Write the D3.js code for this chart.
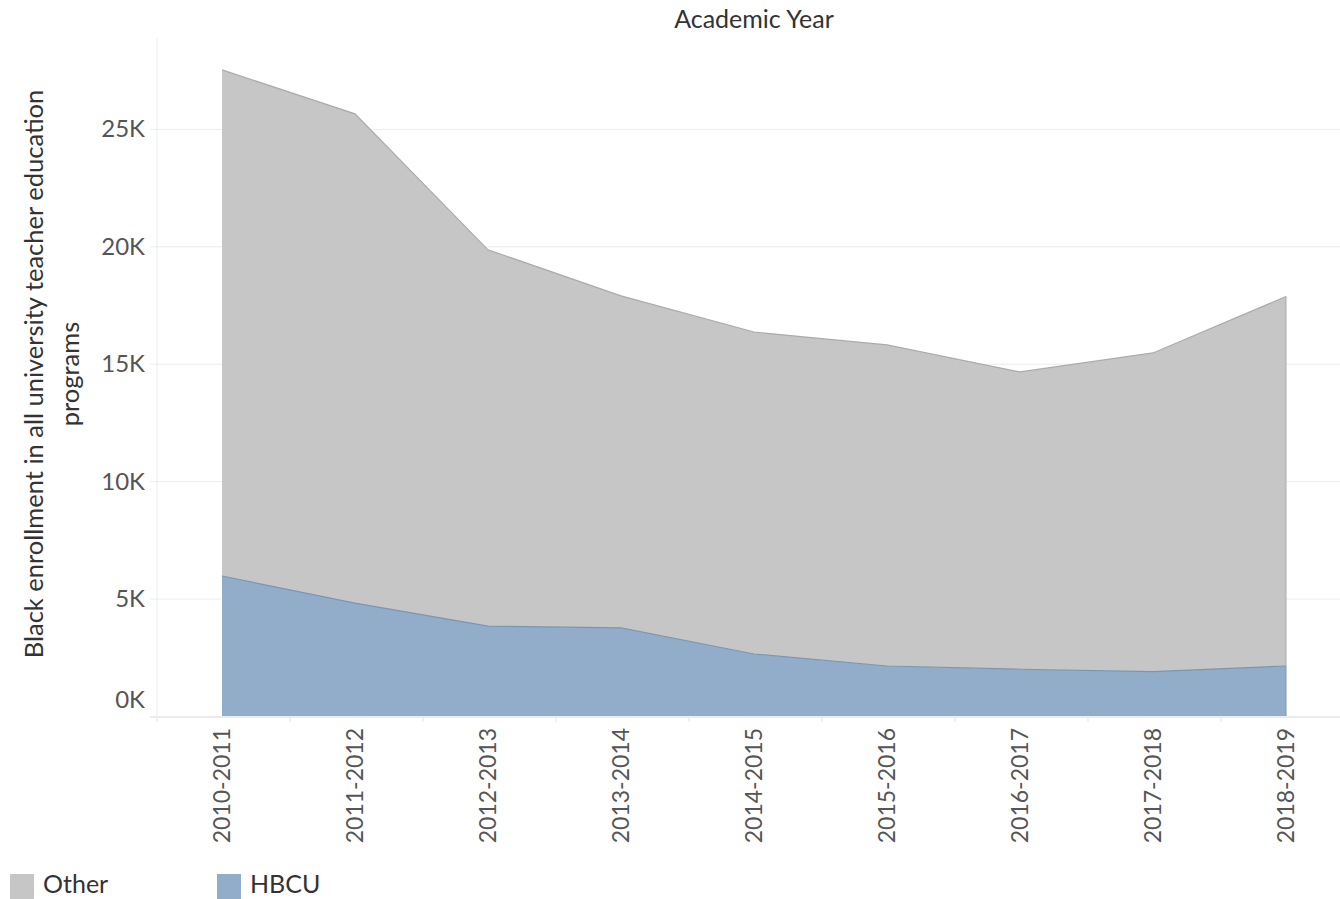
<!DOCTYPE html>
<html>
<head>
  <script src="https://d3js.org/d3.v7.min.js"></script>
  <style>
    body { margin: 0; background: #fff; }
    text { font-family: Lato, "Open Sans", sans-serif; }
    .gridlines line { stroke: #ececec; }
    .gridlines .domain { stroke: none; }
  </style>
</head>
<body>
  <svg id="chart" width="1340" height="899"></svg>
  <script>
    // data (thousands)
    const years = ['2010-2011', '2011-2012', '2012-2013', '2013-2014', '2014-2015',
      '2015-2016', '2016-2017', '2017-2018', '2018-2019'];
    const hbcu = [5.96, 4.81, 3.83, 3.75, 2.64, 2.13, 1.99, 1.89, 2.13];
    const other = [21.55, 20.83, 16.02, 14.14, 13.71, 13.67, 12.66, 13.57, 15.73];
    const yTicks = [0, 5, 10, 15, 20, 25];
    const seriesNames = ['HBCU', 'Other'];
    const colors = { HBCU: '#92adc9', Other: '#c6c6c6' };
    const strokes = { HBCU: '#7a96b6', Other: '#ababab' };

    const svg = d3.select('svg#chart');
    const margins = { top: 38, left: 157, bottom: 716, right: 1340 };

    const table = years.map((y, i) => ({ year: y, HBCU: hbcu[i], Other: other[i] }));
    const stacked = d3.stack().keys(seriesNames)(table);

    const xScale = d3.scalePoint().domain(years).range([222, 1286]);
    const step = xScale.step();
    const yScale = d3.scaleLinear().domain([0, 28.87]).range([margins.bottom, margins.top]);

    // horizontal gridlines
    svg.append('g')
      .attr('class', 'gridlines')
      .attr('transform', `translate(${margins.left - 7},0)`)
      .call(d3.axisLeft(yScale).tickValues(yTicks).tickFormat('').tickSize(-(margins.right - margins.left + 7)));

    // left boundary line
    svg.append('line')
      .attr('x1', margins.left).attr('x2', margins.left)
      .attr('y1', margins.top).attr('y2', margins.bottom + 2)
      .attr('stroke', '#ececec');

    // areas
    const area = d3.area()
      .x(d => xScale(d.data.year))
      .y0(d => yScale(d[0]))
      .y1(d => yScale(d[1]));
    const topLine = d3.line()
      .x(d => xScale(d.data.year))
      .y(d => yScale(d[1]));

    stacked.slice().reverse().forEach(s => {
      svg.append('path')
        .datum(s)
        .attr('d', area)
        .attr('fill', colors[s.key]);
    });
    stacked.forEach(s => {
      svg.append('path')
        .datum(s)
        .attr('d', topLine)
        .attr('fill', 'none')
        .attr('stroke', strokes[s.key])
        .attr('stroke-width', 1.2);
      // right edge
      const last = s[s.length - 1];
      svg.append('line')
        .attr('x1', xScale(last.data.year)).attr('x2', xScale(last.data.year))
        .attr('y1', yScale(last[0])).attr('y2', yScale(last[1]))
        .attr('stroke', strokes[s.key]).attr('stroke-width', 1);
    });

    // x axis baseline + boundary ticks
    svg.append('line')
      .attr('x1', margins.left - 7).attr('x2', margins.right)
      .attr('y1', margins.bottom + 1.5).attr('y2', margins.bottom + 1.5)
      .attr('stroke', '#ececec');
    years.forEach((y, i) => {
      const bx = xScale(y) - step / 2 + 1.5;
      svg.append('line')
        .attr('x1', bx).attr('x2', bx)
        .attr('y1', margins.bottom + 1.5).attr('y2', margins.bottom + 6)
        .attr('stroke', '#e2e2e2');
    });

    // x tick labels
    years.forEach(y => {
      svg.append('text')
        .attr('transform', `translate(${xScale(y) + 8},728) rotate(-90)`)
        .attr('text-anchor', 'end')
        .attr('fill', '#555')
        .attr('font-size', 23)
        .text(y);
    });

    // y tick labels
    yTicks.forEach(t => {
      svg.append('text')
        .attr('x', 145)
        .attr('y', yScale(t) + (t === 0 ? -16 : 0))
        .attr('dy', '0.35em')
        .attr('text-anchor', 'end')
        .attr('fill', '#555')
        .attr('font-size', 24)
        .text(t + 'K');
    });

    // axis titles
    svg.append('text')
      .attr('x', 754).attr('y', 28)
      .attr('text-anchor', 'middle')
      .attr('fill', '#333')
      .attr('font-size', 25)
      .text('Academic Year');

    const yTitle = svg.append('text')
      .attr('transform', 'translate(0,374) rotate(-90)')
      .attr('text-anchor', 'middle')
      .attr('fill', '#333')
      .attr('font-size', 25.5);
    yTitle.append('tspan').attr('x', 0).attr('y', 43).text('Black enrollment in all university teacher education');
    yTitle.append('tspan').attr('x', 0).attr('y', 79).text('programs');

    // legend
    const legendItems = [{ name: 'Other', x: 10 }, { name: 'HBCU', x: 217 }];
    legendItems.forEach(l => {
      svg.append('rect')
        .attr('x', l.x).attr('y', 874)
        .attr('width', 24).attr('height', 25)
        .attr('fill', colors[l.name]);
      svg.append('text')
        .attr('x', l.x + 33).attr('y', 893)
        .attr('fill', '#333')
        .attr('font-size', 25)
        .text(l.name);
    });
  </script>
</body>
</html>
